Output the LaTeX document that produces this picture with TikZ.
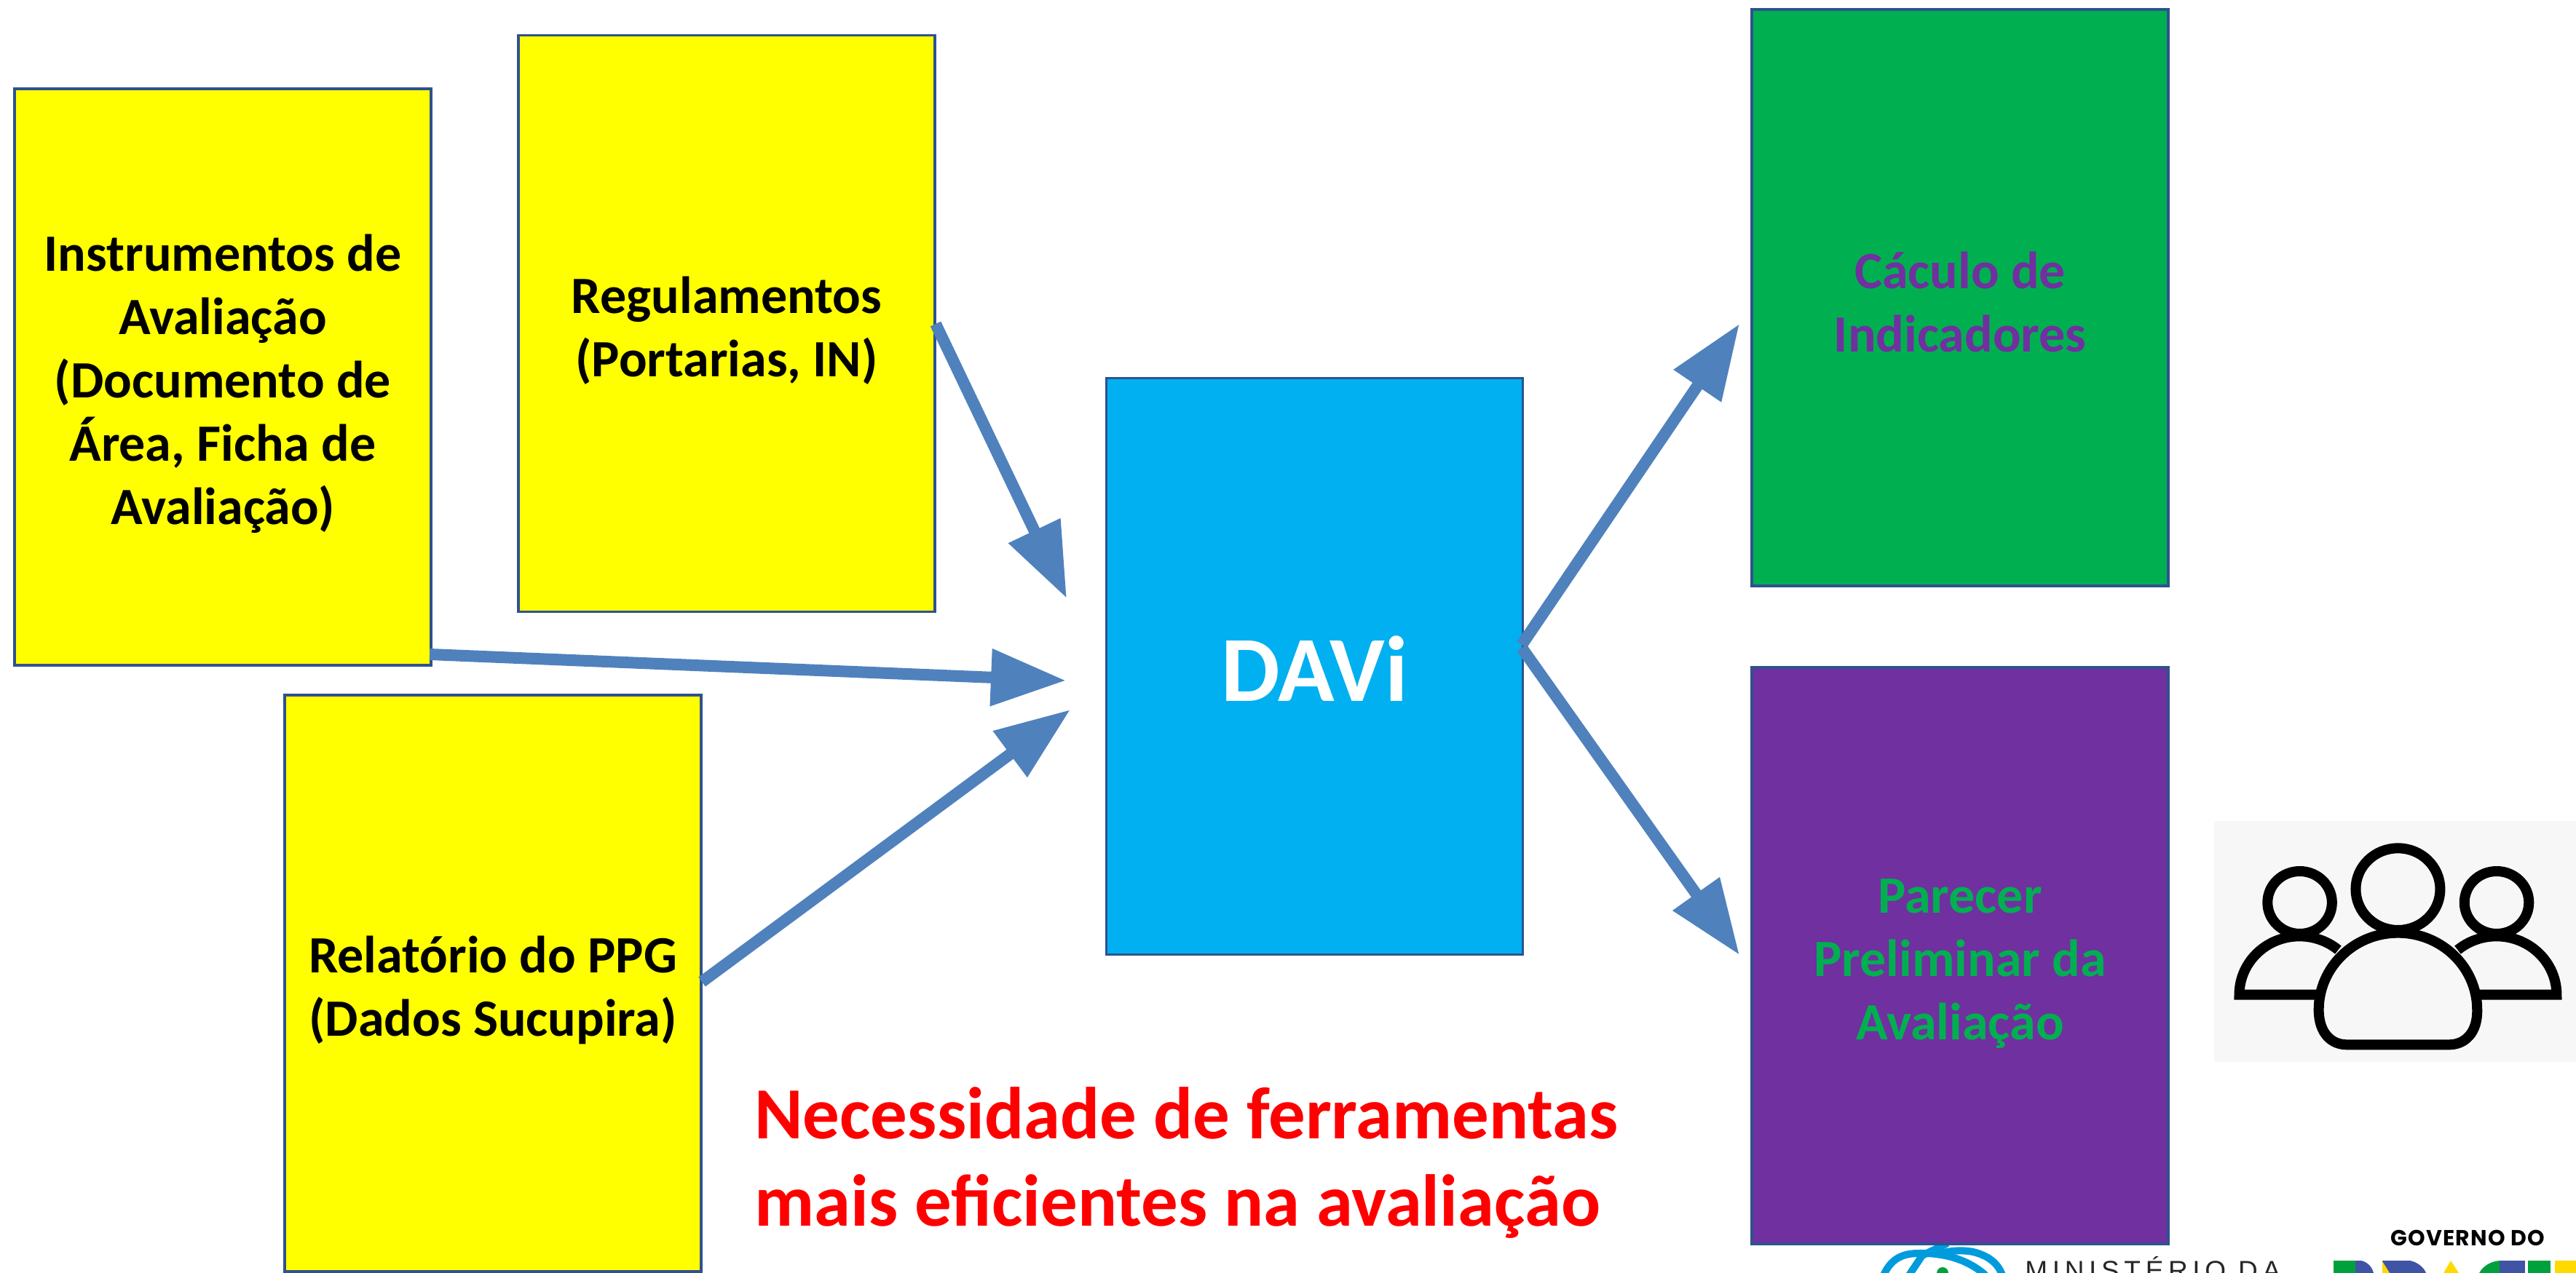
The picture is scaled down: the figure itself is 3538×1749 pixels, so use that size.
\documentclass[tikz,border=0pt]{standalone}
\usepackage{fontspec}
\setmainfont{Carlito}
\newfontfamily\minfont[LetterSpace=18]{Liberation Sans}
\newfontfamily\govfont[LetterSpace=4]{Poppins}
\usetikzlibrary{arrows.meta}
\definecolor{edgeblue}{HTML}{2F528F}
\definecolor{flowblue}{HTML}{4F81BD}
\definecolor{cardyellow}{HTML}{FFFF00}
\definecolor{redtext}{HTML}{FF0000}
\definecolor{skyfill}{HTML}{00B0F0}
\definecolor{greenfill}{HTML}{00B050}
\definecolor{purplefill}{HTML}{7030A0}
\definecolor{iconbg}{HTML}{F7F7F7}
\definecolor{globeblue}{HTML}{009BDD}
\definecolor{brblue}{HTML}{4054A5}
\definecolor{brgreen}{HTML}{00A03C}
\definecolor{bryellow}{HTML}{FFD900}
\newcommand{\dnstrut}{\rule{0pt}{35pt}}
\tikzset{
  card/.style={draw=edgeblue,line width=1.75pt,minimum width=286pt,minimum height=396pt,inner sep=0pt,align=center,
    font=\fontsize{36}{43.5}\selectfont\bfseries},
  flow/.style={draw=flowblue,line width=8pt,-{Triangle[length=51.5pt,width=37.5pt]},color=flowblue},
  person/.style={draw=black,line width=7pt},
}
\begin{document}
\begin{tikzpicture}[x=0.5pt,y=-0.5pt]
\useasboundingbox (0,0) rectangle (3538,1749);
\begin{scope}
\clip (0,0) rectangle (3538,1749);
% logos
\begin{scope}[line width=5pt]
\draw[globeblue] (2587,1752) .. controls (2597,1730) and (2612,1722) .. (2635,1722) .. controls (2665,1721) and (2700,1728) .. (2727,1752);
\draw[globeblue] (2660,1724) .. controls (2675,1718) and (2695,1717) .. (2710,1720) .. controls (2730,1725) and (2744,1735) .. (2750,1752);
\draw[globeblue] (2675,1708) -- (2640,1725) -- (2622,1752);
\end{scope}
\fill[brgreen] (2660,1749) arc[start angle=180,end angle=360,radius=8];
\node[anchor=base west,inner sep=0pt,text=black!85,font=\fontsize{18.5}{18.5}\selectfont\minfont] (ministerio) at (2781,1758) {MINISTÉRIO DA};
\node[anchor=base west,inner sep=0pt,text=black,font=\fontsize{15}{15}\selectfont\govfont\bfseries] (governo) at (3283,1711) {GOVERNO DO};
\fill[brgreen] (3205,1732) rectangle (3235,1749);
\fill[brblue] (3235,1732) -- (3243,1732) .. controls (3252,1734) and (3258,1741) .. (3260,1749) -- (3235,1749) -- cycle;
\fill[brblue] (3272,1732) -- (3310,1732) .. controls (3320,1734) and (3329,1741) .. (3332,1749) -- (3272,1749) -- cycle;
\fill[bryellow] (3272,1733) -- (3282,1749) -- (3272,1749) -- cycle;
\fill[bryellow] (3366,1732) -- (3377,1749) -- (3356,1749) -- cycle;
\fill[brgreen] (3405,1749) .. controls (3410,1740) and (3420,1733) .. (3433,1732) -- (3433,1749) -- cycle;
\fill[brblue] (3433,1732) rectangle (3468,1749);
\fill[brgreen] (3472,1732) rectangle (3503,1749);
\fill[bryellow] (3509,1732) rectangle (3538,1749);
\end{scope}
% boxes
\node[card,fill=cardyellow] (instr) at (306,518) {\dnstrut Instrumentos de\\Avaliação\\(Documento de\\Área, Ficha de\\Avaliação)};
\node[card,fill=cardyellow] (reg) at (998,444.5) {\dnstrut Regulamentos\\(Portarias, IN)};
\node[card,fill=cardyellow] (rel) at (677,1351) {\dnstrut Relatório do PPG\\(Dados Sucupira)};
\node[card,fill=skyfill,text=white,font=\fontsize{64}{70}\selectfont\bfseries] (davi) at (1805.5,915.5) {\rule{0pt}{48pt}DAVi};
\node[card,fill=greenfill,text=purplefill] (calc) at (2692,409) {\rule{0pt}{31pt}Cáculo de\\Indicadores};
\node[card,fill=purplefill,text=greenfill] (par) at (2692,1313) {\dnstrut Parecer\\Preliminar da\\Avaliação};
\node[anchor=west,inner sep=0pt,align=left,text=redtext,font=\fontsize{50.5}{60}\selectfont\bfseries] (need) at (1036,1598) {Necessidade de ferramentas\\mais eficientes na avaliação};
% connector ends
\coordinate (regS) at (1285,445);
\coordinate (instrS) at (590,899);
\coordinate (relS) at (964,1349);
\coordinate (daviA) at (2090,886);
\coordinate (daviB) at (2090,890);
\coordinate (tipReg) at (1465,822);
\coordinate (tipInstr) at (1464,935);
\coordinate (tipRel) at (1470,975);
\coordinate (tipCalc) at (2389,445);
\coordinate (tipPar) at (2389,1312);
\draw[flow] (regS) -- (tipReg);
\draw[flow] (instrS) -- (tipInstr);
\draw[flow] (relS) -- (tipRel);
\draw[flow] (daviA) -- (tipCalc);
\draw[flow] (daviB) -- (tipPar);
% people icon
\fill[iconbg] (3040.5,1128) rectangle (3538,1459);
\begin{scope}[shift={(3000,1100)},xscale=0.3432,yscale=0.3333]
\draw[person] (462,420) circle[radius=129];
\draw[person] (1250,420) circle[radius=129];
\draw[person] (855,365) circle[radius=169];
\draw[person] (530,800) -- (220,800) arc[start angle=180,end angle=310,radius=241];
\draw[person] (1180,800) -- (1490,800) arc[start angle=0,end angle=-130,radius=241];
\draw[person,fill=iconbg] (538,862) arc[start angle=180,end angle=360,radius=317]
  .. controls (1174,960) and (1120,1006) .. (1060,1006) -- (650,1006)
  .. controls (590,1006) and (538,960) .. (538,862) -- cycle;
\end{scope}
\end{tikzpicture}
\end{document}
